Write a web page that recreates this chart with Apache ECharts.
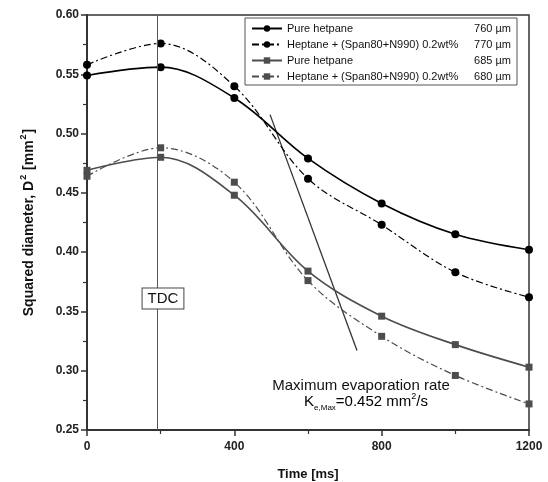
<!DOCTYPE html>
<html>
<head>
<meta charset="utf-8">
<script src="https://cdn.jsdelivr.net/npm/echarts@6/dist/echarts.min.js"></script>
<style>
  html, body { margin: 0; padding: 0; background: #fff; }
  #chart { width: 548px; height: 482px; }
</style>
</head>
<body>
<div id="chart"></div>
<script>
// data
var times = [0, 200, 400, 600, 800, 1000, 1200];
var pure760 = [0.549, 0.556, 0.530, 0.479, 0.441, 0.415, 0.402];
var mix770 = [0.558, 0.576, 0.540, 0.462, 0.423, 0.383, 0.362];
var pure685 = [0.469, 0.480, 0.448, 0.384, 0.346, 0.322, 0.303];
var mix680 = [0.464, 0.488, 0.459, 0.376, 0.329, 0.296, 0.272];
var tangentT = [497, 733];
var tangentD = [0.516, 0.317];
var tdcTime = 190;
var seriesNames = [
    'Pure hetpane|760 µm',
    'Heptane + (Span80+N990) 0.2wt%|770 µm',
    'Pure hetpane|685 µm',
    'Heptane + (Span80+N990) 0.2wt%|680 µm'
];

function pairs(xs, ys) {
    return xs.map(function (x, i) { return [x, ys[i]]; });
}

var FONT = '"Liberation Sans", Arial, sans-serif';
var dashDot = [7, 3, 2, 3];

function makeSeries(name, values, color, symbol, size, dashed) {
    return {
        name: name,
        type: 'line',
        smooth: 0.35,
        data: pairs(times, values),
        symbol: symbol,
        symbolSize: size,
        itemStyle: { color: color },
        lineStyle: { color: color, width: dashed ? 1.2 : 1.6, type: dashed ? dashDot : 'solid' },
        z: 3
    };
}

var dom = document.getElementById('chart');
var myChart = echarts.init(dom);

var option = {
    animation: false,
    textStyle: { fontFamily: FONT },
    grid: {
        left: 87, right: 19, top: 15, bottom: 52,
        outerBoundsMode: 'none',
        containLabel: false,
        show: true, borderColor: '#333', borderWidth: 1.5
    },
    legend: {
        data: seriesNames,
        orient: 'vertical',
        left: 245, top: 18,
        itemWidth: 30, itemHeight: 8, itemGap: 5,
        padding: [5, 6, 3, 6],
        borderColor: '#555', borderWidth: 1,
        backgroundColor: '#fff',
        textStyle: {
            fontFamily: FONT, fontSize: 11, color: '#111',
            rich: {
                a: { width: 180, fontSize: 11, fontFamily: FONT, color: '#111' },
                b: { fontSize: 11, fontFamily: FONT, color: '#111', align: 'right', width: 44 }
            }
        },
        formatter: function (name) {
            var p = name.split('|');
            return '{a|' + p[0] + '}{b|' + p[1] + '}';
        }
    },
    xAxis: {
        type: 'value',
        min: 0, max: 1200, interval: 400,
        name: 'Time [ms]',
        nameLocation: 'middle',
        nameGap: 38,
        nameTextStyle: { fontFamily: FONT, fontWeight: 'bold', fontSize: 13, color: '#111' },
        axisLine: { lineStyle: { color: '#333', width: 2 } },
        axisTick: { show: true, inside: false, length: 6, lineStyle: { color: '#333', width: 1.5 } },
        minorTick: { show: true, splitNumber: 2, length: 4, lineStyle: { color: '#333', width: 1.2 } },
        axisLabel: {
            fontFamily: FONT, fontWeight: 'bold', fontSize: 12, color: '#222', margin: 11,
            formatter: function (v) { return String(v); }
        },
        splitLine: { show: false }
    },
    yAxis: {
        type: 'value',
        min: 0.25, max: 0.60, interval: 0.05,
        name: '{m|Squared diameter, D}{s|2}{m| [mm}{s|2}{m|]}',
        nameLocation: 'middle',
        nameGap: 48,
        nameTextStyle: {
            fontFamily: FONT, fontWeight: 'bold', fontSize: 14, color: '#111',
            rich: {
                m: { fontFamily: FONT, fontWeight: 'bold', fontSize: 14, color: '#111', lineHeight: 20 },
                s: { fontFamily: FONT, fontWeight: 'bold', fontSize: 9, color: '#111', verticalAlign: 'top', padding: [0, 1, 0, 1] }
            }
        },
        axisLine: { lineStyle: { color: '#333', width: 2 } },
        axisTick: { show: true, inside: false, length: 6, lineStyle: { color: '#333', width: 1.5 } },
        minorTick: { show: true, splitNumber: 2, length: 4, lineStyle: { color: '#333', width: 1.2 } },
        axisLabel: {
            fontFamily: FONT, fontWeight: 'bold', fontSize: 12, color: '#222', margin: 8,
            formatter: function (v) { return v.toFixed(2); }
        },
        splitLine: { show: false }
    },
    series: [
        makeSeries(seriesNames[0], pure760, '#000', 'circle', 8, false),
        makeSeries(seriesNames[1], mix770, '#000', 'circle', 8, true),
        makeSeries(seriesNames[2], pure685, '#4d4d4d', 'rect', 7, false),
        makeSeries(seriesNames[3], mix680, '#4d4d4d', 'rect', 7, true),
        {
            name: 'tangent',
            type: 'line',
            data: pairs(tangentT, tangentD),
            symbol: 'none',
            lineStyle: { color: '#333', width: 1.3 },
            z: 2,
            markLine: {
                silent: true,
                symbol: 'none',
                label: { show: false },
                lineStyle: { color: '#555', width: 1, type: 'solid' },
                data: [{ xAxis: tdcTime }]
            }
        }
    ]
};
myChart.setOption(option);

// annotations placed from axis coordinates
var tdcPx = myChart.convertToPixel({ gridIndex: 0 }, [tdcTime, 0.35]);
myChart.setOption({
    graphic: [
        {
            type: 'text',
            x: tdcPx[0] + 6, y: tdcPx[1] - 13,
            style: {
                text: 'TDC',
                font: '15px ' + FONT,
                fill: '#111',
                align: 'center', verticalAlign: 'middle',
                backgroundColor: '#fff',
                borderColor: '#444', borderWidth: 1,
                padding: [3, 5, 2, 5]
            },
            z: 10
        },
        {
            type: 'text',
            x: 361, y: 386,
            style: {
                text: 'Maximum evaporation rate',
                font: '15px ' + FONT,
                fill: '#111',
                align: 'center', verticalAlign: 'middle'
            },
            z: 10
        },
        {
            type: 'text',
            x: 366, y: 402,
            style: {
                text: '{k|K}{s|e,Max}{n|=0.452 mm}{p|2}{n|/s}',
                align: 'center', verticalAlign: 'middle',
                rich: {
                    k: { font: '15px ' + FONT, color: '#111' },
                    s: { font: '8px ' + FONT, color: '#111', padding: [12, 0, 0, 0] },
                    n: { font: '15px ' + FONT, color: '#111', lineHeight: 18 },
                    p: { font: '9px ' + FONT, color: '#111', verticalAlign: 'top' }
                }
            },
            z: 10
        }
    ]
});
</script>
</body>
</html>
